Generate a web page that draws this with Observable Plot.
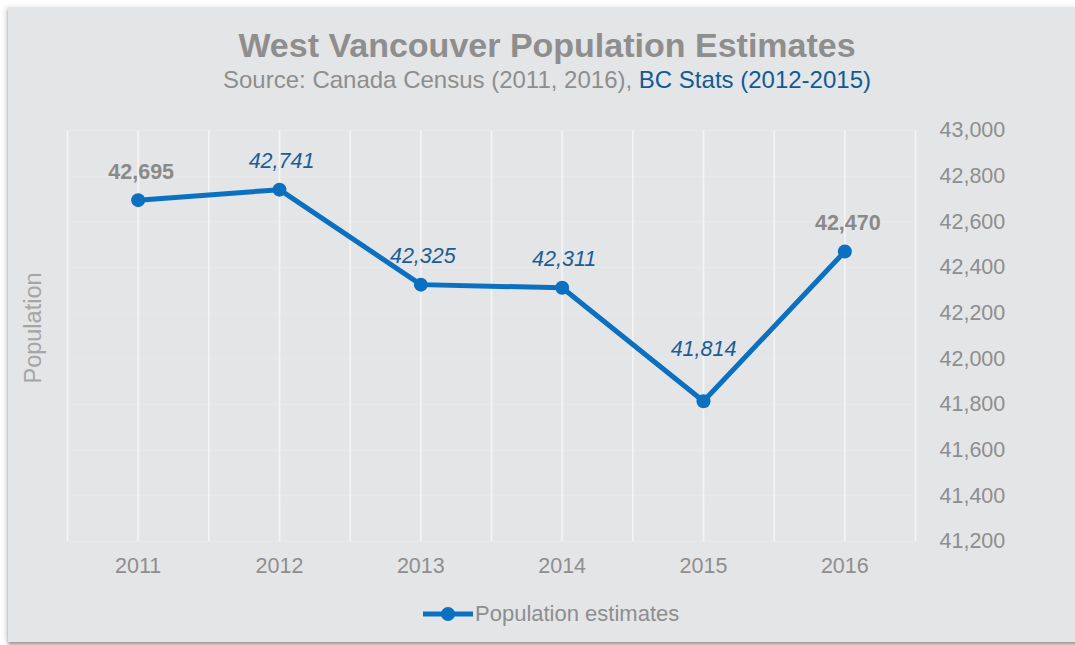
<!DOCTYPE html>
<html>
<head>
<meta charset="utf-8">
<script src="https://cdn.jsdelivr.net/npm/d3@7"></script>
<script src="https://cdn.jsdelivr.net/npm/@observablehq/plot@0.6"></script>
<style>
  html, body { margin: 0; padding: 0; background: #ffffff; width: 1075px; height: 645px; overflow: hidden; }
  body { position: relative; font-family: "Liberation Sans", Arial, sans-serif; }
  #card { position: absolute; left: 8px; top: 7px; width: 1075px; height: 635px; background: #e4e5e7;
          box-shadow: -3px 0 6px rgba(0,0,0,0.10), 0 3px 3px rgba(0,0,0,0.35); }
  #title { position: absolute; left: 0; width: 1094px; top: 26px; text-align: center; font-weight: bold;
           font-size: 34px; line-height: 38px; color: #8e8e8e; }
  #subtitle { position: absolute; left: 0; width: 1094px; top: 66px; text-align: center; font-size: 24px; line-height: 28px; color: #8e8e8e; }
  #subtitle .bc { color: #0f5b98; }
  #chart { position: absolute; left: 0; top: 0; }
  #legend { position: absolute; left: 423px; top: 602px; display: flex; align-items: center; font-size: 22px; line-height: 24px; color: #8e8e8e; }
</style>
</head>
<body>
<div id="card"></div>
<div id="title">West Vancouver Population Estimates</div>
<div id="subtitle">Source: Canada Census (2011, 2016), <span class="bc">BC Stats (2012-2015)</span></div>
<div id="chart"></div>
<div id="legend"></div>
<script>
const years = [2011, 2012, 2013, 2014, 2015, 2016];
const population = [42695, 42741, 42325, 42311, 41814, 42470];
const source = ["Census", "BC Stats", "BC Stats", "BC Stats", "BC Stats", "Census"];
const yTicks = [41200, 41400, 41600, 41800, 42000, 42200, 42400, 42600, 42800, 43000];
const seriesName = "Population estimates";
const yTitle = "Population";

const data = years.map((y, i) => ({ year: y, value: population[i], source: source[i] }));
const fmt = d3.format(",");
const lineColor = "#0b70bf";
const gridLines = d3.range(years[0] - 0.5, years[years.length - 1] + 0.51, 0.5);

const chart = Plot.plot({
  width: 1075,
  height: 600,
  marginLeft: 67,
  marginRight: 160,
  marginTop: 130,
  marginBottom: 59,
  style: { background: "transparent", fontFamily: "Liberation Sans, Arial, sans-serif" },
  x: { domain: [years[0] - 0.5, years[years.length - 1] + 0.5], axis: null },
  y: { domain: [41200, 43000], axis: null },
  marks: [
    Plot.ruleY(yTicks, { stroke: "#ffffff", strokeOpacity: 0.18, strokeWidth: 1 }),
    Plot.ruleX(gridLines, { stroke: "#f4f4f4", strokeWidth: 1.6 }),
    Plot.axisX(years, { tickSize: 0, tickPadding: 16, tickFormat: d => String(d), fontSize: 21.5, color: "#8e8e8e", anchor: "bottom", label: null }),
    Plot.axisY(yTicks, { anchor: "right", tickSize: 0, tickPadding: 24, tickFormat: fmt, fontSize: 21.5, color: "#8e8e8e", textAnchor: "start", label: null }),
    Plot.line(data, { x: "year", y: "value", stroke: lineColor, strokeWidth: 5 }),
    Plot.dot(data, { x: "year", y: "value", r: 7, fill: lineColor }),
    Plot.text(data.filter(d => d.source === "Census"), { x: "year", y: "value", text: d => fmt(d.value), dy: -28, dx: 3, fontSize: 21.5, fontWeight: "bold", fill: "#8a8a8a" }),
    Plot.text(data.filter(d => d.source !== "Census" && d.year !== 2015), { x: "year", y: "value", text: d => fmt(d.value), dy: -29, dx: 2, fontSize: 21.5, fontStyle: "italic", fill: "#1a5d98" }),
    Plot.text(data.filter(d => d.year === 2015), { x: "year", y: "value", text: d => fmt(d.value), dy: -52, fontSize: 21.5, fontStyle: "italic", fill: "#1a5d98" }),
    Plot.text([yTitle], { frameAnchor: "left", textAnchor: "middle", rotate: -90, dx: -34, dy: -8, fontSize: 23.5, fill: "#a5a5a5" })
  ]
});
document.getElementById("chart").appendChild(chart);

// legend
const legend = document.getElementById("legend");
const sw = d3.create("svg").attr("width", 52).attr("height", 20);
sw.append("line").attr("x1", 0).attr("x2", 50).attr("y1", 10).attr("y2", 10).attr("stroke", lineColor).attr("stroke-width", 5);
sw.append("circle").attr("cx", 25).attr("cy", 10).attr("r", 7).attr("fill", lineColor);
legend.appendChild(sw.node());
const lt = document.createElement("span");
lt.textContent = seriesName;
legend.appendChild(lt);
</script>
</body>
</html>
